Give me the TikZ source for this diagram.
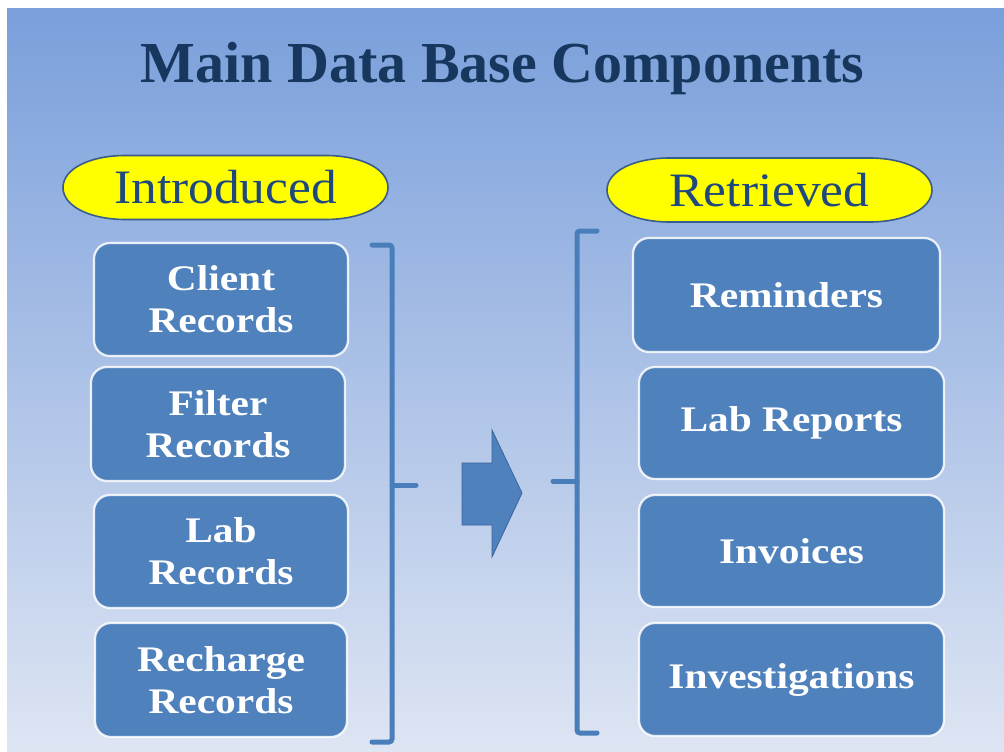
\documentclass[tikz,border=0pt]{standalone}
\usepackage{fontspec}
\setmainfont{Liberation Serif}
\newfontfamily\boxfont[FakeStretch=1.15]{Liberation Serif}
\newfontfamily\ovalfont[FakeStretch=1.07]{Liberation Serif}
\definecolor{bgtop}{RGB}{122,159,219}
\definecolor{bgbot}{RGB}{222,229,243}
\definecolor{boxblue}{RGB}{79,129,189}
\definecolor{titleblue}{RGB}{23,55,94}
\definecolor{ovalborder}{RGB}{56,93,138}
\definecolor{ovaltext}{RGB}{31,73,125}
\definecolor{ovalyellow}{RGB}{255,255,0}
\definecolor{brk}{RGB}{74,126,187}
\definecolor{arrowborder}{RGB}{58,100,155}
\tikzset{
  compbox/.style={draw=white, draw opacity=0.85, line width=2.2pt, fill=boxblue,
    rounded corners=16pt, align=center, text=white, inner sep=0pt,
    font=\boxfont\bfseries\fontsize{36}{42}\selectfont},
  ovaltext/.style={inner sep=0pt, text=ovaltext, font=\ovalfont\fontsize{48}{54}\selectfont,
    minimum width=325pt, minimum height=64pt},
  ovalfill/.style={draw=ovalborder, line width=1.6pt, fill=ovalyellow},
  bracketline/.style={draw=brk, line width=5pt, line cap=round, rounded corners=3pt},
}
\newcommand{\ovalshape}[2]{%
  \path[ovalfill] (#1-162.5,#2) .. controls (#1-162.5,#2-19) and (#1-135,#2-32) .. (#1-100,#2-32)
    -- (#1+100,#2-32) .. controls (#1+135,#2-32) and (#1+162.5,#2-19) .. (#1+162.5,#2)
    .. controls (#1+162.5,#2+19) and (#1+135,#2+32) .. (#1+100,#2+32)
    -- (#1-100,#2+32) .. controls (#1-135,#2+32) and (#1-162.5,#2+19) .. (#1-162.5,#2) -- cycle;}
\begin{document}
\begin{tikzpicture}[x=1pt,y=-1pt]
\useasboundingbox (0,0) rectangle (1004,752);
\fill[white] (0,0) rectangle (1004,752);
\shade[top color=bgtop, bottom color=bgbot] (7,9) rectangle (1004,752);
% title
\node[anchor=base, text=titleblue, font=\bfseries\fontsize{58}{64}\selectfont, inner sep=0pt]
  (title) at (502.5,82) {Main Data Base Components};
% ovals
\ovalshape{225.5}{187.5}
\node[ovaltext] (intro) at (225.5,187.5) {Introduced};
\ovalshape{769.5}{190}
\node[ovaltext] (retr) at (769.5,190) {Retrieved};
% left boxes
\node[compbox, minimum width=254pt, minimum height=113pt] (client) at (221,299.5) {Client\\Records};
\node[compbox, minimum width=254pt, minimum height=114pt] (filter) at (218,424) {Filter\\Records};
\node[compbox, minimum width=254pt, minimum height=113pt] (lab) at (221,551.5) {Lab\\Records};
\node[compbox, minimum width=252pt, minimum height=114pt] (recharge) at (221,680) {Recharge\\Records};
% right boxes
\node[compbox, minimum width=307pt, minimum height=114pt] (remind) at (786.5,295) {Reminders};
\node[compbox, minimum width=305pt, minimum height=112pt] (labrep) at (791.5,423) {Lab Reports};
\node[compbox, minimum width=305pt, minimum height=112pt] (invoice) at (791.5,551) {Invoices};
\node[compbox, minimum width=305pt, minimum height=113pt] (invest) at (791.5,679.5) {Investigations};
% brackets
\draw[bracketline] (372,245) -- (392,245) -- (392,742) -- (372,742);
\draw[bracketline] (392,485) -- (416,485);
\draw[bracketline] (597,231) -- (577,231) -- (577,733) -- (597,733);
\draw[bracketline] (577,481) -- (553,481);
% block arrow
\draw[fill=boxblue, draw=arrowborder, line width=0.8pt, line join=miter]
  (462,463) -- (492,463) -- (492,430) -- (522,493) -- (492,557) -- (492,525) -- (462,525) -- cycle;
\end{tikzpicture}
\end{document}
